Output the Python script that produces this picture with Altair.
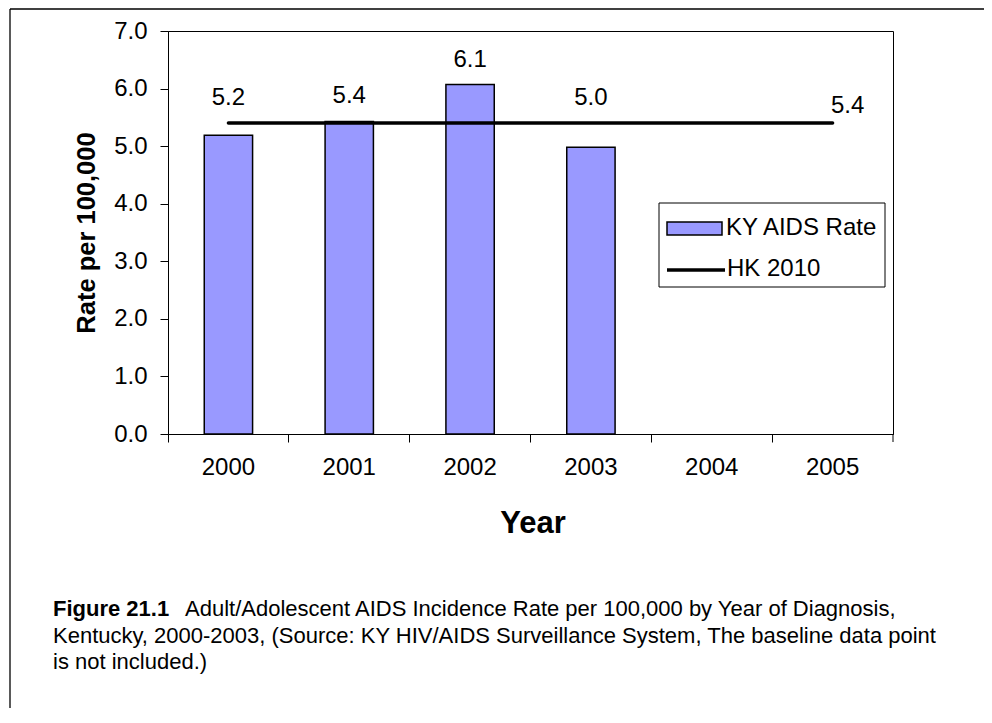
import altair as alt
import pandas as pd

# ---------------- data ----------------
years = ["2000", "2001", "2002", "2003", "2004", "2005"]
bar_years = ["2000", "2001", "2002", "2003"]
ky_rate = [5.19, 5.43, 6.07, 4.98]
hk_target = [5.4, 5.4, 5.4, 5.4, 5.4, 5.4]
hk_label_year = "2005"
y_ticks = [0, 1, 2, 3, 4, 5, 6, 7]
legend_labels = ["KY AIDS Rate", "HK 2010"]
x_title = "Year"
y_title = "Rate per 100,000"
caption_bold = "Figure 21.1"
caption_line1 = "Adult/Adolescent AIDS Incidence Rate per 100,000 by Year of Diagnosis,"
caption_line2 = "Kentucky, 2000-2003, (Source:  KY HIV/AIDS Surveillance System, The baseline data point"
caption_line3 = "is not included.)"

# ---------------- layout / style ----------------
W, H = 725, 403
FONT = "Liberation Sans"
BAR_COLOR = "#9999ff"
PAD = {"left": 160, "top": 23, "right": 91, "bottom": 274}
TXT = 24

bars_df = pd.DataFrame({"year": bar_years, "rate": ky_rate})
target_by_year = dict(zip(years, hk_target))
bars_df["label_y"] = [max(r, target_by_year[y]) for y, r in zip(bar_years, ky_rate)]
line_df = pd.DataFrame({"year": years, "target": hk_target})

x_enc = alt.X(
    "year:N",
    scale=alt.Scale(domain=years, paddingInner=0, paddingOuter=0),
    axis=alt.Axis(
        title=x_title, labelAngle=0, bandPosition=0, tickSize=8, labelPadding=13,
        titleFontSize=31, titleFontWeight="bold", titleX=W / 2 + 2, titleY=89,
        titleBaseline="middle", titleAlign="center",
    ),
)
y_scale = alt.Scale(domain=[0, 7], nice=False)
y_axis = alt.Axis(
    values=y_ticks, format=".1f", tickSize=8, labelPadding=13, grid=False,
    title=y_title, titleFontSize=25.5, titleFontWeight="bold",
    titleX=-82, titleY=H / 2, titleAngle=-90, titleBaseline="middle", titleAlign="center",
)

bars = alt.Chart(bars_df).mark_bar(
    width=alt.RelativeBandSize(0.4), color=BAR_COLOR, stroke="black", strokeWidth=1.5
).encode(x=x_enc, y=alt.Y("rate:Q", scale=y_scale, axis=y_axis))

bar_labels = alt.Chart(bars_df).mark_text(
    dy=-25, fontSize=TXT, font=FONT, color="black", baseline="middle"
).encode(x=alt.X("year:N"), y=alt.Y("label_y:Q"), text=alt.Text("rate:Q", format=".1f"))

hk_line = alt.Chart(line_df).mark_line(
    color="black", strokeWidth=3.5, strokeCap="round"
).encode(x=alt.X("year:N"), y=alt.Y("target:Q"))

hk_label = alt.Chart(line_df).transform_filter(
    alt.datum.year == hk_label_year
).mark_text(dx=15, dy=-17, fontSize=TXT, font=FONT, color="black", baseline="middle").encode(
    x=alt.X("year:N"), y=alt.Y("target:Q"), text=alt.Text("target:Q", format=".1f")
)

one = pd.DataFrame({"k": [0]})

# last x-axis tick at the right edge of the plot
end_tick = alt.Chart(one).mark_rule(color="black", strokeWidth=1).encode(
    x=alt.value(W), y=alt.value(H), y2=alt.value(H + 8)
)

# legend (decoration)
leg_box = alt.Chart(one).mark_rect(fill="white", stroke="black", strokeWidth=1).encode(
    x=alt.value(491), x2=alt.value(717), y=alt.value(172), y2=alt.value(256)
)
leg_rect = alt.Chart(one).mark_rect(fill=BAR_COLOR, stroke="black", strokeWidth=1.5).encode(
    x=alt.value(499), x2=alt.value(554), y=alt.value(191), y2=alt.value(204)
)
leg_line = alt.Chart(one).mark_rule(color="black", strokeWidth=3.5).encode(
    x=alt.value(499), x2=alt.value(557), y=alt.value(239)
)
leg_text1 = alt.Chart(one).mark_text(
    text=legend_labels[0], align="left", baseline="middle", fontSize=TXT, font=FONT, color="black"
).encode(x=alt.value(558), y=alt.value(197))
leg_text2 = alt.Chart(one).mark_text(
    text=legend_labels[1], align="left", baseline="middle", fontSize=TXT, font=FONT, color="black"
).encode(x=alt.value(559), y=alt.value(238))

# outer frame (decoration)
frame_top = alt.Chart(one).mark_rule(color="black", strokeWidth=1.3).encode(
    x=alt.value(-158), x2=alt.value(W + PAD["right"]), y=alt.value(-22)
)
frame_left = alt.Chart(one).mark_rule(color="black", strokeWidth=1.3).encode(
    x=alt.value(-158), y=alt.value(-22), y2=alt.value(H + PAD["bottom"])
)

# caption
cap_kw = dict(align="left", baseline="middle", fontSize=22, font=FONT, color="black")
cap_b = alt.Chart(one).mark_text(text=caption_bold, fontWeight="bold", **cap_kw).encode(
    x=alt.value(-115), y=alt.value(578)
)
cap_1 = alt.Chart(one).mark_text(text=caption_line1, **cap_kw).encode(
    x=alt.value(17), y=alt.value(578)
)
cap_2 = alt.Chart(one).mark_text(text=caption_line2, **cap_kw).encode(
    x=alt.value(-115), y=alt.value(605)
)
cap_3 = alt.Chart(one).mark_text(text=caption_line3, **cap_kw).encode(
    x=alt.value(-115), y=alt.value(631)
)

chart = alt.layer(
    bars, hk_line, bar_labels, hk_label, end_tick,
    leg_box, leg_rect, leg_line, leg_text1, leg_text2,
    frame_top, frame_left, cap_b, cap_1, cap_2, cap_3,
).properties(
    width=W, height=H, padding=PAD, autosize=alt.AutoSizeParams(type="none"),
    background="white",
).configure_view(
    stroke="black", strokeWidth=1
).configure_axis(
    domainColor="black", tickColor="black", labelColor="black", titleColor="black",
    labelFont=FONT, titleFont=FONT, labelFontSize=TXT, domainWidth=1, tickWidth=1,
)

chart.save("out.html", embed_options={"renderer": "svg", "actions": False})
